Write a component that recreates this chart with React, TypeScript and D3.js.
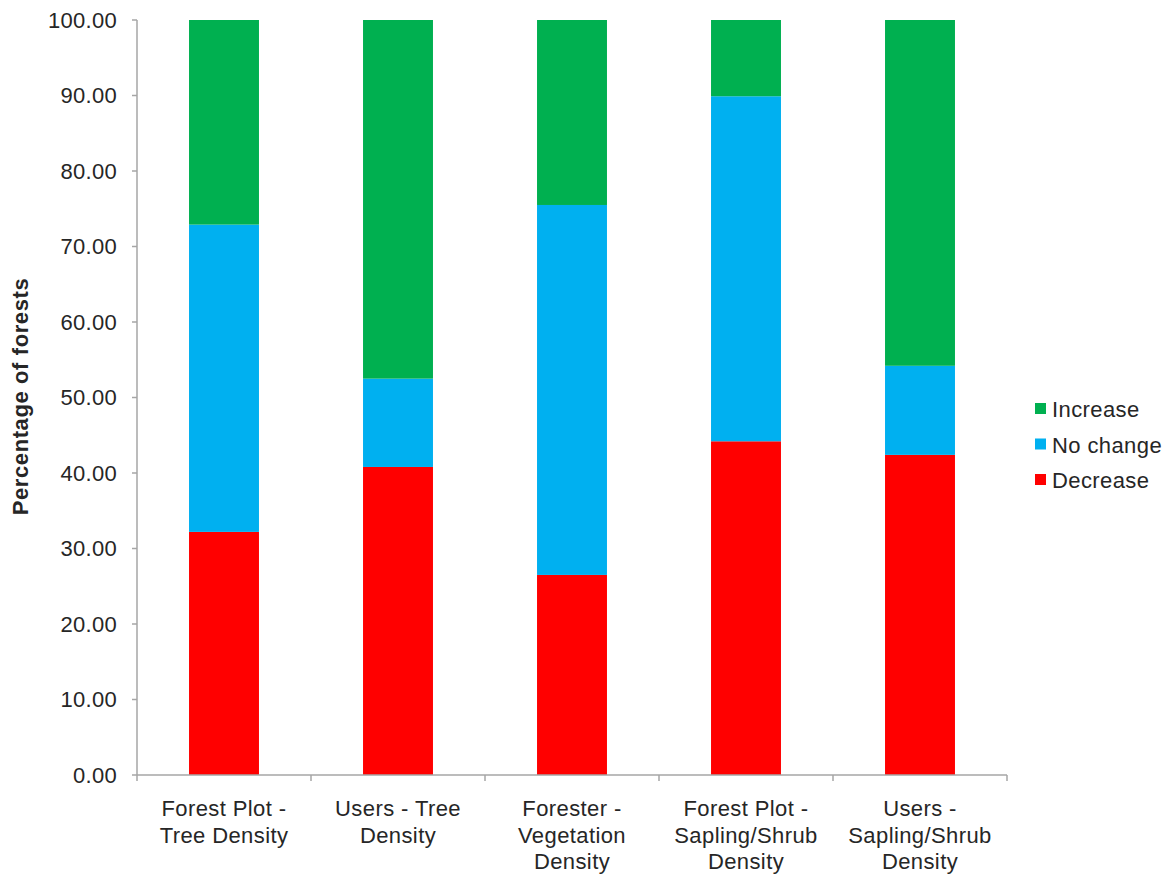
import React from "react";
import * as d3 from "d3";

// Category labels, split into the lines they are drawn on
const categoryLines: string[][] = [
  ["Forest Plot -", "Tree Density"],
  ["Users - Tree", "Density"],
  ["Forester -", "Vegetation", "Density"],
  ["Forest Plot -", "Sapling/Shrub", "Density"],
  ["Users -", "Sapling/Shrub", "Density"],
];
const categories = categoryLines.map((l) => l.join(" "));

// Percentages of forests per category
const decrease = [32.2, 40.8, 26.5, 44.2, 42.4];
const noChange = [40.7, 11.7, 49.0, 45.7, 11.8];
const increase = [27.1, 47.5, 24.5, 10.1, 45.8];

const seriesKeys = ["Decrease", "No change", "Increase"];
const seriesColors: Record<string, string> = {
  Decrease: "#FF0000",
  "No change": "#00B0F0",
  Increase: "#00B050",
};
const legendOrder = ["Increase", "No change", "Decrease"];

const yTicks = [0, 10, 20, 30, 40, 50, 60, 70, 80, 90, 100];

const W = 1172;
const H = 877;
const left = 137;
const right = 1007;
const top = 20;
const bottom = 775;
const textColor = "#262626";
const axisColor = "#A6A6A6";
const font = "'Liberation Sans', Arial, sans-serif";
const fontSize = 22;

export default function App() {
  const rows = categories.map((c, i) => ({
    category: c,
    Decrease: decrease[i],
    "No change": noChange[i],
    Increase: increase[i],
  }));
  const stacked = d3.stack<any>().keys(seriesKeys)(rows);

  const x = d3
    .scaleBand<string>()
    .domain(categories)
    .range([left, right])
    .paddingInner(0.598)
    .paddingOuter(0.299);
  const y = d3.scaleLinear().domain([0, 100]).range([bottom, top]);
  const step = x.step();
  const boundaries = d3.range(categories.length + 1).map((i) => left + i * step);

  return (
    <div style={{ position: "absolute", left: 0, top: 0 }}>
      <svg width={W} height={H} style={{ display: "block", background: "#fff" }}>
        {/* stacked bars */}
        {stacked.map((s) => (
          <g key={s.key} fill={seriesColors[s.key]}>
            {s.map((d, i) => (
              <rect
                key={i}
                x={x(categories[i])}
                width={x.bandwidth()}
                y={y(d[1])}
                height={y(d[0]) - y(d[1])}
              />
            ))}
          </g>
        ))}

        {/* y axis */}
        <line x1={left} x2={left} y1={top} y2={bottom} stroke={axisColor} strokeWidth={1.5} />
        {yTicks.map((t) => (
          <g key={t}>
            <line x1={left - 5} x2={left} y1={y(t)} y2={y(t)} stroke={axisColor} strokeWidth={1.5} />
            <text
              x={117}
              y={y(t)}
              dy="0.35em"
              textAnchor="end"
              fontFamily={font}
              fontSize={fontSize}
              letterSpacing={0.3}
              fill={textColor}
            >
              {d3.format(".2f")(t)}
            </text>
          </g>
        ))}

        {/* x axis */}
        <line x1={left} x2={right} y1={bottom} y2={bottom} stroke={axisColor} strokeWidth={1.5} />
        {boundaries.map((bx, i) => (
          <line key={i} x1={bx} x2={bx} y1={bottom} y2={bottom + 6} stroke={axisColor} strokeWidth={1.5} />
        ))}
        {categoryLines.map((lines, i) => (
          <text
            key={i}
            textAnchor="middle"
            fontFamily={font}
            fontSize={fontSize}
            letterSpacing={0.4}
            fill={textColor}
          >
            {lines.map((ln, j) => (
              <tspan key={j} x={(x(categories[i]) as number) + x.bandwidth() / 2} y={bottom + 41 + j * 26.5}>
                {ln}
              </tspan>
            ))}
          </text>
        ))}

        {/* y axis title */}
        <text
          transform={`translate(28,${396.5}) rotate(-90)`}
          textAnchor="middle"
          fontFamily={font}
          fontSize={fontSize}
          fontWeight="bold"
          letterSpacing={0.6}
          fill={textColor}
        >
          Percentage of forests
        </text>

        {/* legend */}
        {legendOrder.map((k, i) => (
          <g key={k} transform={`translate(1035,${403 + i * 35.5})`}>
            <rect width={11} height={11} fill={seriesColors[k]} />
            <text
              x={17}
              y={14}
              fontFamily={font}
              fontSize={fontSize}
              letterSpacing={0.4}
              fill={textColor}
            >
              {k}
            </text>
          </g>
        ))}
      </svg>
    </div>
  );
}
